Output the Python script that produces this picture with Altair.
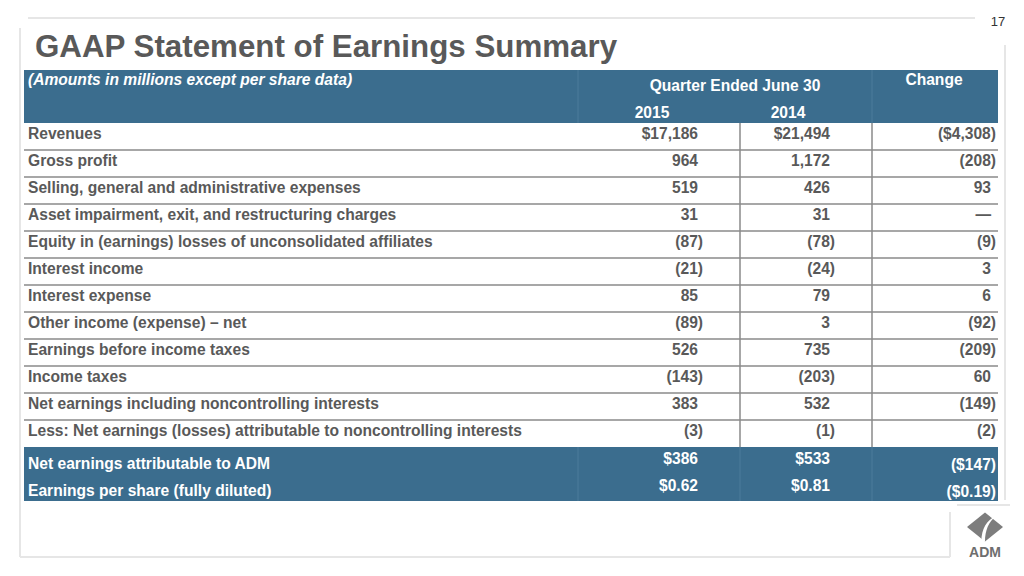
import altair as alt
import pandas as pd

# ---------------- data ----------------
title = "GAAP Statement of Earnings Summary"
subtitle = "(Amounts in millions except per share data)"
period_header = "Quarter Ended June 30"
years = ["2015", "2014"]
change_header = "Change"

labels = [
    "Revenues",
    "Gross profit",
    "Selling, general and administrative expenses",
    "Asset impairment, exit, and restructuring charges",
    "Equity in (earnings) losses of unconsolidated affiliates",
    "Interest income",
    "Interest expense",
    "Other income (expense) \u2013 net",
    "Earnings before income taxes",
    "Income taxes",
    "Net earnings including noncontrolling interests",
    "Less: Net earnings (losses) attributable to noncontrolling interests",
]
v2015 = ["$17,186", "964", "519", "31", "(87)", "(21)", "85", "(89)", "526", "(143)", "383", "(3)"]
v2014 = ["$21,494", "1,172", "426", "31", "(78)", "(24)", "79", "3", "735", "(203)", "532", "(1)"]
change = ["($4,308)", "(208)", "93", "\u2014", "(9)", "3", "6", "(92)", "(209)", "60", "(149)", "(2)"]

total_labels = ["Net earnings attributable to ADM", "Earnings per share (fully diluted)"]
total_2015 = ["$386", "$0.62"]
total_2014 = ["$533", "$0.81"]
total_change = ["($147)", "($0.19)"]

page_number = "17"

# ---------------- styles ----------------
BLUE = "#3b6d8e"
BLUE_LINE = "#4c7c9b"
GRAY_TEXT = "#595959"
SEP = "#8a8a8a"
FRAME = "#e6e6e6"
FONT = "Liberation Sans"
FS = 15.6
W, H = 1008, 560


def p(v):
    return v - 8


rows = pd.DataFrame({
    "row": list(range(len(labels))),
    "label": labels,
    "v2015": v2015,
    "v2014": v2014,
    "change": change,
})
rows["paren15"] = rows["v2015"].str.endswith(")")
rows["paren14"] = rows["v2014"].str.endswith(")")
rows["parenC"] = rows["change"].str.endswith(")")

totals = pd.DataFrame({
    "row": [len(labels), len(labels) + 1],
    "label": total_labels,
    "v2015": total_2015,
    "v2014": total_2014,
    "change": total_change,
})

dummy = pd.DataFrame({"d": [0]})

yscale = alt.Scale(domain=[-128.5 / 27, (H - 128.5) / 27], range=[0, H])
Y = alt.Y("row:Q", scale=yscale, axis=None)


def hrule(x1, x2, y, color, width=1.0):
    return alt.Chart(dummy).mark_rule(color=color, strokeWidth=width).encode(
        x=alt.value(p(x1)), x2=alt.value(p(x2)), y=alt.value(p(y)))


def vrule(x, y1, y2, color, width=1.0):
    return alt.Chart(dummy).mark_rule(color=color, strokeWidth=width).encode(
        x=alt.value(p(x)), y=alt.value(p(y1)), y2=alt.value(p(y2)))


def band(x1, x2, y1, y2, color):
    return alt.Chart(dummy).mark_rect(color=color).encode(
        x=alt.value(p(x1)), x2=alt.value(p(x2)), y=alt.value(p(y1)), y2=alt.value(p(y2)))


def label_text(txt, x, y, size=FS, color=GRAY_TEXT, align="left", style="normal", weight="bold"):
    return alt.Chart(pd.DataFrame({"t": [txt]})).mark_text(
        font=FONT, fontSize=size, fontWeight=weight, fontStyle=style, color=color,
        align=align, baseline="middle").encode(
        text="t:N", x=alt.value(p(x)), y=alt.value(p(y)))


layers = []

# slide frame
layers += [
    hrule(28, 975, 18, FRAME, 2),
    vrule(20, 28, 557, FRAME, 2),
    hrule(20, 950, 557, FRAME, 2),
    vrule(1005, 45, 500, FRAME, 2),
    vrule(950, 512, 557, FRAME, 2),
    hrule(957, 1010, 505, FRAME, 2),
]

# header band
layers += [
    band(24, 998, 70, 123, BLUE),
    vrule(578, 70, 123, BLUE_LINE, 1),
    vrule(872, 70, 123, BLUE_LINE, 1),
]

# totals band
layers += [
    band(24, 998, 447, 501, BLUE),
    vrule(578, 447, 501, BLUE_LINE, 1),
    vrule(740, 447, 501, BLUE_LINE, 1),
    vrule(872, 447, 501, BLUE_LINE, 1),
]

# separators
seps = alt.Chart(rows[rows["row"] < len(labels) - 1]).transform_calculate(
    ysep="datum.row + 0.5").mark_rule(color=SEP, strokeWidth=1.5).encode(
    y=alt.Y("ysep:Q", scale=yscale, axis=None),
    x=alt.value(p(24)), x2=alt.value(p(998)))
layers.append(seps)
layers += [vrule(740, 123, 447, SEP, 1.5), vrule(872, 123, 447, SEP, 1.5)]

# texts: title, header
layers += [
    label_text(title, 35, 47.5, size=31.3, color=GRAY_TEXT),
    label_text(subtitle, 28, 80, size=15.6, color="white", style="italic"),
    label_text(period_header, 735, 85.5, color="white", align="center"),
    label_text(years[0], 652, 112.5, color="white", align="center"),
    label_text(years[1], 788, 112.5, color="white", align="center"),
    label_text(change_header, 934, 80, color="white", align="center"),
    label_text(page_number, 998, 22, size=13, color="#333333", align="center", weight="normal"),
]

base = alt.Chart(rows)
txt = dict(font=FONT, fontSize=FS, fontWeight="bold", color=GRAY_TEXT, baseline="middle", dy=-2.5)
layers.append(base.mark_text(align="left", **txt).encode(y=Y, text="label:N", x=alt.value(p(28))))


def value_layers(field, flag, xpos, xneg):
    return [
        base.transform_filter(f"!datum.{flag}").mark_text(align="right", **txt).encode(
            y=Y, text=f"{field}:N", x=alt.value(p(xpos))),
        base.transform_filter(f"datum.{flag}").mark_text(align="right", **txt).encode(
            y=Y, text=f"{field}:N", x=alt.value(p(xneg))),
    ]


layers += value_layers("v2015", "paren15", 698, 703)
layers += value_layers("v2014", "paren14", 830, 835)
layers += value_layers("change", "parenC", 991, 996)

# totals texts
tb = alt.Chart(totals)
ttxt = dict(font=FONT, fontSize=FS, fontWeight="bold", color="white", baseline="middle")
layers += [
    tb.mark_text(align="left", dy=3, **ttxt).encode(y=Y, text="label:N", x=alt.value(p(28))),
    tb.mark_text(align="right", dy=-2, **ttxt).encode(y=Y, text="v2015:N", x=alt.value(p(698))),
    tb.mark_text(align="right", dy=-2, **ttxt).encode(y=Y, text="v2014:N", x=alt.value(p(830))),
    tb.mark_text(align="right", dy=4, **ttxt).encode(y=Y, text="change:N", x=alt.value(p(996))),
]

# logo
layers += [
    alt.Chart(dummy).mark_point(
        shape="M0,-0.8L1,0L0,0.8L-1,0Z", filled=True, color="#7d7d7d", size=1300, opacity=1).encode(
        x=alt.value(p(985)), y=alt.value(p(527))),
    alt.Chart(dummy).mark_point(
        shape="M-0.2,0.8C-0.2,0.1 0.1,-0.4 0.6,-0.6C0.2,-0.3 0,0.2 0,0.8Z", filled=True,
        color="white", size=1300, opacity=1).encode(
        x=alt.value(p(985)), y=alt.value(p(527))),
    label_text("ADM", 985, 553, size=14, color="#6e6e6e", align="center"),
]

chart = alt.layer(*layers).properties(
    width=W, height=H, padding=0, autosize="none"
).configure_view(stroke=None)

chart.save("out.html", embed_options={"renderer": "svg", "actions": False})
